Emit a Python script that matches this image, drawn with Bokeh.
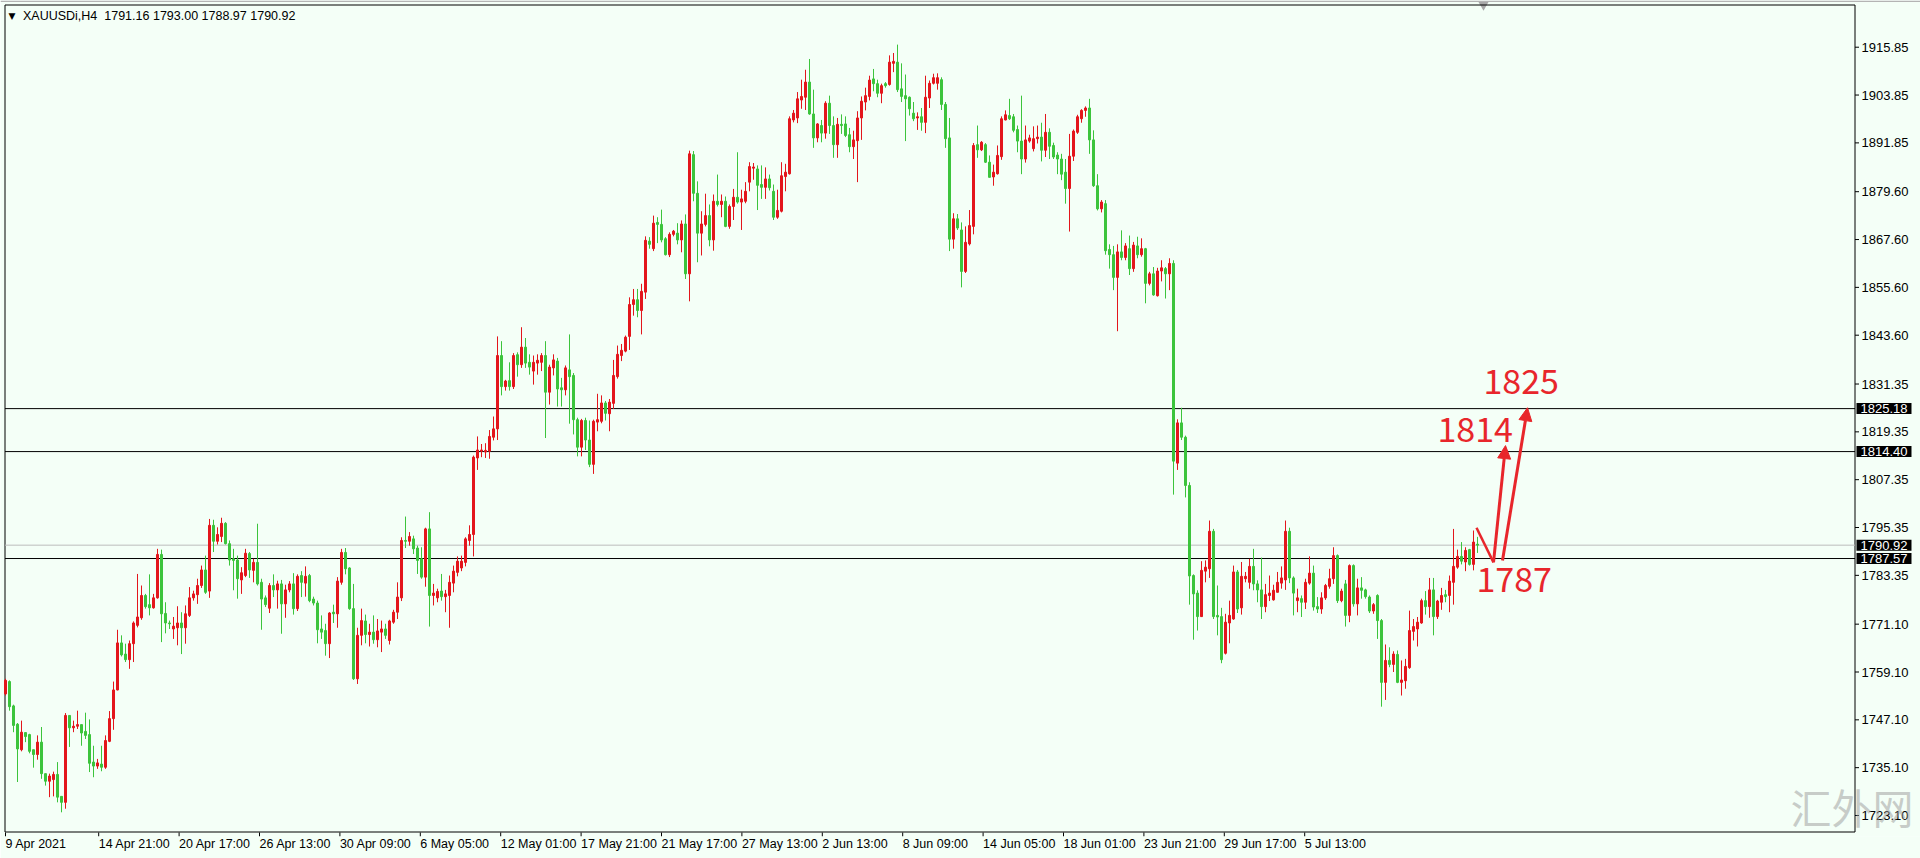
from bokeh.plotting import figure
from bokeh.models import Label, FixedTicker, Arrow, NormalHead, Range1d, ColumnDataSource
from bokeh.embed import file_html
from bokeh.resources import INLINE

# ---------------- data (XAUUSDi, H4) ----------------
opens = [
1753.6,1756.7,1750.6,1746.0,1739.6,1743.9,1743.4,1739.6,1738.4,1741.5,
1733.6,1731.7,1732.1,1733.4,1727.9,1726.4,1748.2,1745.1,1745.5,1745.9,
1744.2,1743.4,1736.5,1735.5,1736.0,1735.2,1741.7,1747.4,1754.6,1766.4,
1763.6,1762.2,1766.2,1770.8,1772.7,1778.3,1776.0,1775.2,1777.7,1788.6,
1773.8,1771.4,1769.9,1770.2,1771.4,1770.2,1773.3,1777.7,1778.5,1780.8,
1784.7,1779.4,1795.9,1791.9,1793.1,1796.4,1791.3,1787.5,1787.2,1782.2,
1783.3,1788.8,1784.6,1786.6,
1781.6,1777.7,1775.1,1780.8,1779.7,1781.2,1776.2,1779.7,1781.2,1775.0,
1783.3,1781.4,1783.3,1777.4,1776.4,1769.9,1769.5,1766.2,1774.1,1773.7,
1781.6,1789.1,1785.2,1775.0,1757.4,1768.3,1771.9,1768.5,1769.1,1767.2,
1769.1,1769.9,1767.0,1771.6,1774.1,1777.7,1792.1,1791.9,1792.5,1790.2,
1787.5,1782.9,1795.0,1778.3,1777.7,1779.4,1778.0,1778.3,1781.4,1784.1,
1785.2,1786.6,1792.1,1793.6,1812.8,1814.5,1814.3,1814.5,1818.0,1820.1,
1838.5,1830.7,
1832.2,1830.7,1838.7,1836.2,1840.6,1836.8,1834.6,1836.6,1836.8,1838.5,
1829.3,1835.4,1837.1,1830.4,1829.9,1834.9,1833.5,1822.4,1815.5,1822.2,
1817.3,1811.2,1821.8,1822.0,1826.6,1823.9,1826.5,1833.2,1838.5,1839.6,
1843.3,1851.3,1852.5,1849.8,1854.4,1867.2,1865.3,1871.9,1871.4,1867.8,
1863.8,1868.9,1869.2,1867.5,1871.5,1859.0,1888.9,1879.2,1869.2,1871.4,
1873.6,1867.5,1877.2,1876.4,1877.2,1870.9,1875.9,1878.2,1877.0,1877.2,
1882.0,1885.5,1885.3,
1881.4,1880.7,1882.8,1879.7,1873.2,1874.7,1883.4,1884.1,1897.6,1898.1,
1902.6,1903.3,1907.1,1899.1,1893.1,1896.2,1894.3,1901.8,1896.2,1891.4,
1896.5,1896.6,1893.9,1890.9,1892.4,1898.1,1902.1,1903.5,1907.9,1906.7,
1904.3,1906.7,1906.5,1911.8,1912.1,1905.4,1903.7,1903.3,1899.3,1898.1,
1898.4,1897.0,1903.1,1906.8,1906.8,1907.7,1901.5,1893.1,1867.7,1872.8,
1870.0,1859.6,1866.5,1870.9,1891.4,1890.1,1891.4,1887.0,1883.3,1884.1,
1888.4,1897.6,1898.7,
1898.4,1895.2,1892.3,1887.8,1892.3,1890.4,1892.9,1893.3,1890.0,1894.5,
1891.2,1888.8,1887.8,1884.5,1880.4,1888.5,1894.5,1897.9,1900.0,1900.6,
1892.6,1881.1,1875.3,1876.6,1865.1,1863.8,1858.1,1864.5,1863.1,1865.3,
1860.3,1866.0,1863.8,1865.3,1856.6,1859.0,1853.5,1859.7,1860.3,1859.0,
1861.6,1811.5,1821.6,1818.0,1805.9,
1783.3,1778.9,1773.0,1784.4,1785.0,1794.4,1773.3,1773.0,1763.8,1771.4,
1772.4,1784.2,1775.2,1782.5,1781.6,1785.6,1781.2,1779.7,1775.5,1778.3,
1777.2,1779.1,1781.4,1782.2,1794.4,1782.7,1777.0,1777.5,1776.6,1781.4,
1783.9,1775.5,1774.9,1777.7,1780.6,1782.5,1788.3,1777.0,1781.2,1773.3,
1785.8,1776.2,1780.2,1779.7,1777.9,1774.4,1778.3,1772.0,1756.5,1762.0,
1761.0,1763.5,1756.5,1756.9,1760.2,1769.3,1769.9,1771.4,1777.0,1775.5,
1779.7,1773.0,1776.6,1778.5,1778.3,1781.6,1785.4,1788.1,1786.7,1789.8,
1786.1,1791.16]

highs = [
1757.4,1757.0,1750.9,1746.3,1746.9,1744.0,1743.6,1739.6,1743.2,1745.3,
1733.6,1733.6,1734.1,1736.5,1727.9,1748.8,1748.2,1746.9,1749.4,1745.9,
1748.9,1747.2,1740.6,1737.3,1740.6,1743.2,1749.3,1756.7,1769.7,1768.3,
1766.2,1767.0,1771.8,1783.7,1780.8,1778.7,1783.6,1778.7,1790.0,1789.8,
1776.6,1772.0,1772.9,1775.6,1774.1,1775.8,1780.4,1779.5,1782.5,1785.8,
1788.3,1797.5,1797.3,1795.4,1797.8,1796.7,1792.1,1790.0,1788.3,1785.4,
1790.0,1789.2,1787.5,1796.3,
1782.5,1778.3,1781.4,1783.6,1782.0,1782.2,1781.0,1781.9,1783.9,1783.6,
1784.4,1785.6,1783.7,1778.0,1777.0,1773.3,1771.2,1774.1,1776.0,1782.9,
1790.0,1790.2,1785.4,1781.2,1770.2,1775.0,1773.5,1771.2,1773.3,1772.4,
1772.0,1771.2,1772.2,1774.7,1781.6,1792.9,1798.1,1794.2,1793.3,1790.8,
1790.4,1795.3,1799.2,1781.2,1780.0,1783.7,1779.7,1783.3,1785.8,1788.1,
1788.3,1792.9,1795.9,1813.4,1818.2,1816.3,1816.5,1819.8,1823.2,1843.3,
1842.1,1832.4,
1836.8,1839.1,1839.3,1845.6,1842.9,1838.8,1838.5,1838.8,1839.1,1842.1,
1836.2,1838.8,1837.9,1832.9,1836.0,1843.8,1834.1,1822.9,1822.6,1822.9,
1822.2,1822.4,1828.9,1828.5,1827.1,1827.6,1837.4,1841.0,1841.4,1843.5,
1853.1,1855.2,1855.2,1856.5,1868.4,1868.2,1873.6,1873.2,1875.1,1868.2,
1869.4,1870.0,1871.7,1872.4,1873.9,1889.9,1889.8,1882.2,1874.7,1879.1,
1876.4,1878.9,1883.9,1878.9,1878.4,1876.4,1880.3,1889.5,1880.1,1882.0,
1887.0,1886.8,1886.2,
1886.2,1885.7,1883.9,1881.4,1880.1,1887.0,1886.6,1898.5,1900.1,1904.6,
1907.7,1910.2,1912.9,1905.2,1896.8,1897.6,1902.3,1903.7,1898.5,1898.1,
1899.0,1898.5,1895.6,1894.9,1899.8,1903.5,1905.7,1908.7,1910.4,1907.7,
1906.7,1907.1,1913.8,1914.4,1916.5,1911.8,1909.0,1903.5,1902.1,1899.5,
1900.6,1908.7,1907.5,1909.2,1909.3,1908.3,1902.1,1898.1,1874.2,1874.0,
1871.9,1870.9,1875.0,1891.8,1896.2,1892.3,1891.8,1888.7,1886.4,1891.2,
1898.5,1900.0,1902.9,
1899.1,1896.2,1903.7,1896.2,1893.9,1896.0,1896.2,1896.9,1899.1,1895.5,
1891.9,1889.5,1889.1,1887.8,1894.1,1895.2,1898.9,1900.3,1901.0,1902.9,
1895.0,1884.0,1877.5,1877.5,1866.4,1866.0,1866.4,1869.9,1866.7,1868.6,
1867.0,1868.3,1867.9,1865.5,1859.5,1860.7,1860.5,1862.4,1860.7,1862.9,
1862.4,1822.5,1825.4,1818.4,1806.7,
1783.6,1779.6,1786.9,1787.1,1797.1,1795.0,1780.8,1775.2,1773.7,1777.0,
1785.8,1784.7,1786.7,1784.2,1787.5,1790.0,1782.1,1787.8,1781.2,1783.3,
1781.0,1784.2,1785.6,1797.1,1795.3,1783.1,1780.0,1778.3,1782.5,1788.1,
1785.8,1777.9,1779.1,1781.2,1785.0,1790.4,1788.6,1780.0,1782.2,1786.1,
1786.1,1782.5,1782.9,1780.0,1778.3,1776.4,1778.6,1772.4,1766.0,1765.3,
1764.3,1764.5,1762.0,1762.4,1774.5,1772.4,1772.9,1777.5,1779.4,1782.7,
1782.7,1777.2,1780.2,1779.7,1783.3,1795.0,1789.8,1791.7,1790.4,1790.0,
1794.6,1793.00]

lows = [
1753.2,1749.4,1744.0,1731.5,1739.2,1741.5,1738.7,1735.1,1737.1,1732.3,
1730.6,1727.7,1727.9,1726.4,1723.9,1724.8,1740.3,1744.0,1744.8,1740.6,
1742.3,1734.0,1732.7,1734.8,1734.2,1734.8,1741.5,1744.6,1754.5,1763.0,
1761.6,1759.9,1761.6,1770.3,1772.2,1775.0,1773.3,1775.0,1777.5,1766.6,
1768.8,1769.9,1767.4,1765.8,1763.6,1766.2,1772.9,1777.0,1776.2,1780.2,
1778.7,1777.7,1789.2,1791.1,1791.7,1791.1,1785.8,1779.6,1777.5,1778.7,
1782.9,1782.7,1781.6,1780.8,
1769.7,1775.4,1773.9,1777.9,1775.0,1768.7,1772.7,1779.1,1773.5,1774.4,
1777.9,1778.0,1776.6,1775.8,1766.3,1767.4,1763.2,1762.6,1771.4,1770.2,
1781.0,1783.6,1774.7,1757.1,1756.1,1765.8,1766.3,1765.5,1766.2,1765.3,
1764.1,1767.4,1766.0,1771.2,1772.4,1776.9,1790.2,1790.8,1788.7,1783.7,
1782.5,1780.5,1770.5,1775.8,1776.6,1777.0,1774.1,1770.2,1779.1,1783.1,
1784.4,1785.6,1790.8,1788.1,1809.8,1813.0,1812.8,1812.6,1817.2,1817.3,
1828.5,1829.7,
1829.7,1830.1,1833.2,1835.4,1835.4,1833.7,1831.2,1833.7,1834.6,1817.8,
1826.2,1833.5,1825.7,1825.7,1828.5,1821.4,1818.7,1813.2,1813.2,1814.8,
1810.5,1808.8,1819.5,1821.5,1822.2,1819.5,1825.1,1832.7,1837.1,1839.3,
1839.9,1848.5,1848.1,1843.8,1852.7,1865.3,1864.7,1866.7,1866.9,1863.6,
1863.2,1868.4,1866.4,1864.4,1857.7,1852.1,1877.2,1861.9,1863.6,1870.9,
1865.9,1864.8,1875.9,1873.2,1870.7,1870.3,1872.5,1876.6,1870.0,1876.7,
1879.7,1882.6,1875.0,
1877.8,1877.8,1879.9,1872.5,1872.8,1874.4,1879.7,1883.9,1897.0,1896.8,
1900.4,1900.1,1898.9,1890.6,1892.0,1892.0,1892.9,1894.1,1888.1,1888.1,
1894.1,1893.3,1889.5,1887.8,1882.0,1892.6,1900.0,1902.5,1904.8,1903.3,
1901.8,1905.7,1906.2,1909.6,1904.6,1902.1,1892.3,1898.7,1897.3,1895.1,
1894.9,1894.3,1900.6,1906.5,1905.2,1900.1,1890.6,1864.7,1865.3,1870.0,
1855.6,1859.2,1866.1,1868.9,1888.1,1889.8,1886.8,1883.2,1881.1,1883.9,
1887.6,1897.5,1897.6,
1894.5,1889.5,1884.0,1886.9,1891.9,1889.7,1891.7,1887.2,1888.3,1887.8,
1887.8,1884.0,1882.5,1876.6,1869.6,1887.3,1894.1,1896.9,1898.4,1889.1,
1880.8,1874.9,1874.4,1863.8,1860.3,1854.9,1844.6,1862.4,1862.4,1858.7,
1859.5,1862.9,1863.3,1851.6,1856.1,1853.5,1853.3,1857.1,1852.8,1854.9,
1803.6,1809.8,1817.3,1802.9,1776.0,
1767.2,1769.5,1772.9,1781.6,1782.7,1772.4,1768.3,1761.3,1763.5,1766.3,
1772.2,1773.9,1773.5,1781.6,1780.0,1779.6,1776.6,1772.4,1774.1,1776.9,
1777.0,1779.1,1780.0,1779.7,1781.4,1773.3,1774.1,1772.9,1774.9,1781.0,
1774.5,1773.9,1773.7,1777.2,1780.0,1781.2,1776.4,1776.6,1770.5,1771.6,
1775.5,1773.3,1777.5,1777.5,1773.9,1773.7,1767.4,1750.4,1752.1,1760.3,
1759.1,1756.3,1753.2,1754.9,1759.9,1767.0,1765.5,1771.2,1773.5,1772.7,
1768.3,1772.4,1774.7,1776.6,1774.1,1776.0,1785.0,1786.1,1784.4,1785.8,
1784.6,1788.97]

closes = [
1757.0,1750.4,1745.7,1739.8,1744.0,1742.9,1739.2,1738.4,1741.5,1733.6,
1731.7,1733.0,1733.4,1727.7,1726.4,1748.2,1745.1,1745.5,1745.9,1743.8,
1743.2,1736.2,1735.5,1736.3,1735.2,1741.9,1747.4,1754.6,1766.4,1763.4,
1762.2,1766.2,1771.4,1772.9,1778.3,1775.5,1775.2,1777.7,1788.6,1773.7,
1771.4,1771.2,1770.6,1771.4,1770.2,1773.7,1777.7,1778.7,1780.8,1784.7,
1779.1,1795.9,1791.9,1793.6,1796.4,1791.3,1787.2,1787.1,1782.5,1784.0,
1788.9,1784.7,1786.6,1781.2,
1777.4,1776.0,1780.8,1779.7,1781.2,1776.2,1779.7,1781.2,1775.0,1783.1,
1781.6,1783.1,1777.0,1776.4,1769.7,1769.1,1766.2,1773.9,1773.7,1781.9,
1789.1,1785.0,1775.0,1757.4,1768.3,1772.0,1768.5,1769.1,1767.2,1769.4,
1769.9,1768.3,1771.9,1774.1,1777.9,1792.1,1791.9,1793.1,1790.0,1787.1,
1782.9,1795.0,1778.3,1778.9,1779.3,1778.0,1778.7,1781.6,1784.4,1786.9,
1786.9,1792.5,1793.6,1813.0,1814.8,1814.8,1814.7,1818.2,1820.1,1838.5,
1830.7,1832.1,
1830.7,1838.5,1836.2,1840.6,1836.6,1835.6,1836.8,1837.3,1838.5,1829.3,
1835.6,1837.4,1830.1,1829.9,1835.4,1833.2,1822.4,1815.5,1822.2,1817.3,
1811.2,1822.0,1822.4,1826.6,1824.0,1826.8,1833.5,1838.8,1839.8,1843.1,
1851.3,1852.5,1849.8,1854.6,1867.4,1866.4,1871.7,1871.4,1867.5,1863.8,
1868.9,1869.7,1867.5,1871.5,1859.0,1889.1,1879.2,1869.2,1871.5,1873.6,
1867.5,1877.2,1876.4,1877.2,1870.9,1875.9,1878.2,1877.0,1877.8,1879.7,
1885.9,1885.8,1881.2,
1880.7,1882.8,1880.6,1873.2,1874.9,1883.6,1884.5,1897.9,1899.3,1902.9,
1903.5,1907.1,1899.1,1893.1,1896.6,1894.3,1901.8,1896.2,1891.4,1896.5,
1896.2,1893.7,1890.9,1892.6,1898.1,1902.3,1903.7,1907.6,1906.7,1904.3,
1906.2,1906.2,1912.1,1912.3,1905.2,1903.5,1902.9,1900.4,1897.9,1898.4,
1897.0,1903.3,1906.8,1908.2,1908.2,1901.5,1892.9,1867.7,1872.8,1870.5,
1859.6,1866.9,1871.1,1891.2,1890.1,1892.0,1887.0,1883.2,1884.5,1888.7,
1897.9,1898.9,1897.9,
1895.0,1892.3,1887.8,1892.6,1893.1,1892.9,1893.3,1890.0,1894.5,1891.0,
1888.3,1887.8,1884.0,1880.4,1888.5,1894.8,1898.4,1900.0,1900.6,1892.6,
1881.1,1875.3,1877.0,1864.8,1863.8,1858.1,1864.5,1863.1,1866.0,1860.3,
1866.2,1863.8,1865.3,1856.6,1859.0,1853.7,1859.7,1860.5,1859.0,1861.6,
1812.0,1821.6,1818.0,1805.9,1783.2,
1778.7,1773.0,1784.6,1785.4,1794.4,1773.0,1772.9,1762.2,1771.6,1773.3,
1784.2,1774.9,1783.1,1783.1,1785.6,1781.2,1779.7,1775.5,1778.5,1778.9,
1779.6,1781.6,1782.7,1794.4,1782.7,1778.9,1777.7,1776.6,1781.6,1783.9,
1775.4,1774.9,1777.7,1780.8,1782.5,1788.3,1777.0,1779.4,1773.3,1785.8,
1776.2,1780.2,1779.6,1778.0,1774.4,1776.0,1772.0,1756.5,1762.0,1761.0,
1763.6,1756.5,1757.1,1760.5,1769.5,1770.5,1771.6,1777.0,1775.5,1779.7,
1773.0,1776.9,1778.3,1778.0,1781.9,1785.6,1788.1,1786.9,1789.6,1786.1,
1791.7,1790.92]

# time-scale labels and the bar position where each label starts
xtick_bars = [0, 23.3, 43.4, 63.5, 83.6, 103.7, 123.8, 143.9, 164.0, 184.1, 204.2,
              224.3, 244.4, 264.5, 284.6, 304.7, 324.8]
xtick_labels = ["9 Apr 2021", "14 Apr 21:00", "20 Apr 17:00", "26 Apr 13:00", "30 Apr 09:00",
                "6 May 05:00", "12 May 01:00", "17 May 21:00", "21 May 17:00", "27 May 13:00",
                "2 Jun 13:00", "8 Jun 09:00", "14 Jun 05:00", "18 Jun 01:00", "23 Jun 21:00",
                "29 Jun 17:00", "5 Jul 13:00"]
# price-scale labels
ytick_vals = [1915.85, 1903.85, 1891.85, 1879.60, 1867.60, 1855.60, 1843.60, 1831.35,
              1819.35, 1807.35, 1795.35, 1783.35, 1771.10, 1759.10, 1747.10, 1735.10, 1723.10]
# horizontal levels
level_lines = [1825.18, 1814.40, 1787.57]
current_price = 1790.92
# hand-drawn forecast targets
target_texts = ["1825", "1814", "1787"]
header = "XAUUSDi,H4\u00a0\u00a01791.16 1793.00 1788.97 1790.92"

# ---------------- layout helpers (pixel -> data) ----------------
W, H = 1920, 858
FRAME_H = 836                    # drawing area height (time labels below)
PX = 0.25                        # bars per pixel (4 px per bar)
XA = -1.25                       # bar value at the left edge of the canvas
XF = XA + W * PX
Y1 = 1927.57                     # price at the top edge
Y0 = 1717.83                     # price at the bottom edge of the drawing area
PY = (Y1 - Y0) / FRAME_H
XFONT = 12.5                     # time-label font size (px)


def bx(px):
    return XA + px * PX


def py(px):
    return Y1 - px * PY


# Liberation Sans advance widths (1/1000 em), to left-align time labels on their tick
CW = {c: 556 for c in "0123456789"}
CW.update({" ": 278, ":": 278, "A": 667, "p": 556, "r": 333, "M": 833, "a": 556, "y": 500,
           "J": 500, "u": 556, "n": 556, "l": 222})


def label_center(start_bar, text):
    w = sum(CW.get(c, 556) for c in text) / 1000.0 * XFONT
    return round(start_bar + 0.5 * w * PX, 3)


n = min(len(opens), len(highs), len(lows), len(closes))
UP = "#e3161c"
DN = "#3cc43c"
BG = "#f4fff7"
xs = list(range(n))
top = [max(opens[i], closes[i]) for i in range(n)]
bot = [min(opens[i], closes[i]) for i in range(n)]
hi = [max(highs[i], top[i]) for i in range(n)]
lo = [min(lows[i], bot[i]) for i in range(n)]
col = [UP if closes[i] >= opens[i] else DN for i in range(n)]
src = ColumnDataSource(dict(x=xs, top=top, bot=bot, hi=hi, lo=lo, col=col))

p = figure(width=W, height=H, output_backend="svg", toolbar_location=None,
           x_range=Range1d(XA, XF), y_range=Range1d(Y0, Y1), y_axis_location=None,
           background_fill_color=BG, border_fill_color=BG,
           min_border_left=0, min_border_top=0, min_border_right=0, min_border_bottom=H - FRAME_H)
p.outline_line_color = None
p.xgrid.visible = False
p.ygrid.visible = False

L, R, T, B = bx(4.5), bx(1854.5), py(4.5), py(831.5)

# window chrome
p.segment(x0=[XA], y0=[py(0.8)], x1=[XF], y1=[py(0.8)], line_color="#b4b4b4", line_width=1.6)
p.scatter(x=[bx(1483)], y=[py(4.5)], marker="inverted_triangle", size=10,
          fill_color="#a8a8a8", line_color=None)

# chart window border
p.segment(x0=[L, L, L, R], y0=[T, B, T, T], x1=[R, R, L, R], y1=[T, B, B, B],
          line_color="black", line_width=1)

# horizontal levels
p.segment(x0=[L] * len(level_lines), y0=level_lines, x1=[R] * len(level_lines), y1=level_lines,
          line_color="black", line_width=1)
p.segment(x0=[L], y0=[current_price], x1=[R], y1=[current_price], line_color="#bdbdbd", line_width=1)

# candles
p.segment(x0="x", y0="hi", x1="x", y1="lo", color="col", line_width=1, source=src)
p.vbar(x="x", width=0.5, top="top", bottom="bot", fill_color="col", line_color="col",
       line_width=1, source=src)

# price scale (right)
p.segment(x0=[R] * len(ytick_vals), y0=ytick_vals, x1=[bx(1858.5)] * len(ytick_vals), y1=ytick_vals,
          line_color="black", line_width=1)
p.text(x=[bx(1861)] * len(ytick_vals), y=ytick_vals, text=[f"{v:.2f}" for v in ytick_vals],
       text_font_size="13px", text_color="black", text_align="left", text_baseline="middle",
       text_font={"value": "Liberation Sans"})
for v in level_lines + [current_price]:
    p.add_layout(Label(x=bx(1856), y=v, text=f"{v:.2f}", text_color="white",
                       background_fill_color="black", text_font="Liberation Sans",
                       text_font_size="13px", text_align="left", text_baseline="middle",
                       padding=(4, 1)))

# time scale: tick marks at each label start, labels left-aligned on them
p.segment(x0=xtick_bars, y0=[py(832)] * len(xtick_bars), x1=xtick_bars, y1=[py(836)] * len(xtick_bars),
          line_color="black", line_width=1)
centers = [label_center(b, t) for b, t in zip(xtick_bars, xtick_labels)]
p.xaxis.ticker = FixedTicker(ticks=centers)
p.xaxis.major_label_overrides = {c: t for c, t in zip(centers, xtick_labels)}
p.xaxis.major_label_text_font = "Liberation Sans"
p.xaxis.major_label_text_font_size = f"{XFONT}px"
p.xaxis.major_label_text_color = "black"
p.xaxis.major_label_standoff = 0
p.xaxis.major_tick_in = 0
p.xaxis.major_tick_out = 0
p.xaxis.major_tick_line_color = None
p.xaxis.minor_tick_line_color = None
p.xaxis.axis_line_color = None

# header
p.add_layout(Label(x=bx(8), y=py(15), text="\u25bc", text_font="DejaVu Sans", text_font_size="9px",
                   text_color="black", text_baseline="middle", text_align="left"))
p.add_layout(Label(x=bx(22.5), y=py(15.5), text=header, text_font="Liberation Sans",
                   text_font_size="12.5px", text_color="black", text_baseline="middle",
                   text_align="left"))

# hand-drawn forecast
RED = "#e8262b"
p.line(x=[367.75, 372.0], y=[1795.3, 1786.6], line_color=RED, line_width=2.5)
p.add_layout(Arrow(end=NormalHead(size=13, fill_color=RED, line_color=RED),
                   x_start=372.0, y_start=1786.6, x_end=375.0, y_end=1815.9,
                   line_color=RED, line_width=3))
p.add_layout(Arrow(end=NormalHead(size=13, fill_color=RED, line_color=RED),
                   x_start=374.25, y_start=1787.1, x_end=380.5, y_end=1825.4,
                   line_color=RED, line_width=3))
for txt, (tx, ty) in zip(target_texts, [(369.5, 1831.9), (358.0, 1819.9), (367.75, 1782.3)]):
    p.add_layout(Label(x=tx, y=ty, text=txt, text_color=RED, text_font="Noto Sans CJK SC",
                       text_font_size="34px", text_align="left", text_baseline="alphabetic"))

# watermark
p.add_layout(Label(x=bx(1790), y=py(FRAME_H - 1), text="汇外网", text_color="#9a9a9a", text_alpha=0.5,
                   text_font="Noto Sans CJK SC", text_font_size="41px",
                   text_align="left", text_baseline="bottom"))

open("out.html", "w").write(file_html(p, INLINE))
